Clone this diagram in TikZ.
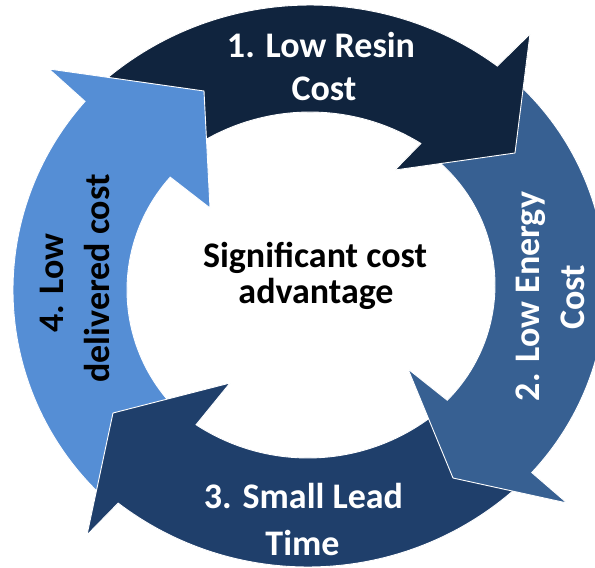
\documentclass[tikz,border=0pt]{standalone}
\usepackage{fontspec}
\setmainfont{Carlito}
\definecolor{cA}{HTML}{10243E}
\definecolor{cB}{HTML}{376092}
\definecolor{cC}{HTML}{1F3F6B}
\definecolor{cD}{HTML}{558ED5}
\tikzset{
  arrowshape/.style={draw=white, line width=0.9pt, line join=miter},
  ringtxt/.style={font=\fontsize{36}{44}\selectfont\bfseries, text=white, inner sep=0pt, anchor=base},
  darktxt/.style={font=\fontsize{36}{44}\selectfont\bfseries, text=black, inner sep=0pt, anchor=base}
}
\newcommand{\pathArrowA}{([shift={(310,-323)}]135.4:318) arc[start angle=135.4, end angle=53.9, radius=318]
  -- (530,-34) -- (515,-153) -- (395,-170)
  -- ([shift={(310,-323)}]58.3:211) arc[start angle=58.3, end angle=133.8, radius=211] -- cycle}
\begin{document}
\begin{tikzpicture}[x=1pt,y=1pt]
\clip (0,-568) rectangle (595,0);
% arrow 1 (top), full
\filldraw[arrowshape, fill=cA] \pathArrowA;
% arrow 4 (left)
\filldraw[arrowshape, fill=cD]
  ([shift={(296,-290)}]230.1:283) arc[start angle=230.1, end angle=138.2, radius=283]
  -- (49,-69) -- (204,-91) -- (210,-208)
  -- ([shift={(296,-290)}]138.1:169) arc[start angle=138.1, end angle=233.3, radius=169] -- cycle;
% arrow 3 (bottom)
\filldraw[arrowshape, fill=cC]
  ([shift={(308,-253)}]-44.5:314) arc[start angle=-44.5, end angle=-127.2, radius=314]
  -- (87,-535) -- (113,-413) -- (230,-383)
  -- ([shift={(308,-253)}]-123.1:205) arc[start angle=-123.1, end angle=-46.6, radius=205] -- cycle;
% arrow 2 (right)
\filldraw[arrowshape, fill=cB]
  ([shift={(332,-285)}]53.0:274) arc[start angle=53.0, end angle=-43.2, radius=274]
  -- (567,-503) -- (453,-478) -- (408,-369)
  -- ([shift={(332,-285)}]-45:163) arc[start angle=-45, end angle=57.8, radius=163] -- cycle;
% arrow 1 head again, over arrow 2
\begin{scope}
  \clip (300,-300) rectangle (595,0);
  \filldraw[arrowshape, fill=cA] \pathArrowA;
\end{scope}
% labels
\node[ringtxt] (t1a) at (321,-57) {1. Low Resin};
\node[ringtxt] (t1b) at (324,-100) {Cost};
\node[ringtxt, rotate=90] (t2a) at (539,-296.5) {2. Low Energy};
\node[ringtxt, rotate=90] (t2b) at (584,-297) {Cost};
\node[ringtxt] (t3a) at (303.5,-508) {3. Small Lead};
\node[ringtxt] (t3b) at (302.5,-555) {Time};
\node[darktxt, rotate=90] (t4a) at (63,-283) {4. Low};
\node[darktxt, rotate=90] (t4b) at (109,-278.5) {delivered cost};
\node[darktxt] (c1) at (315,-267) {Significant cost};
\node[darktxt] (c2) at (316,-303) {advantage};
\end{tikzpicture}
\end{document}
